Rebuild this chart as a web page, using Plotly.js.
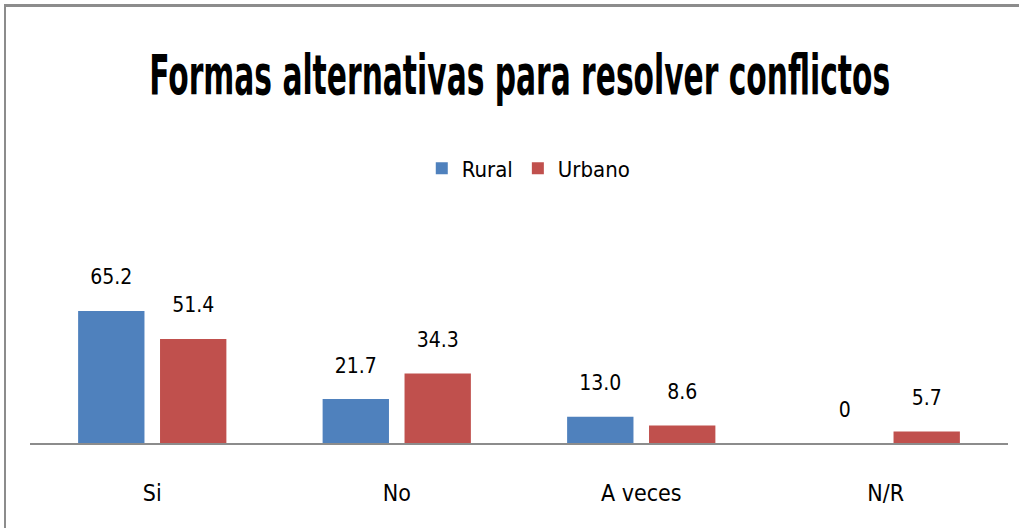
<!DOCTYPE html>
<html>
<head>
<meta charset="utf-8">
<script src="https://cdn.plot.ly/plotly-3.0.1.min.js"></script>
<style>
  html, body { margin: 0; padding: 0; background: #ffffff; }
  #wrap { position: relative; width: 1019px; height: 528px; overflow: hidden; }
  #chart { width: 1019px; height: 528px; }
  #frame { position: absolute; left: 4px; top: 4px; width: 1100px; height: 600px;
           border-top: 3px solid #8c8c8c; border-left: 2px solid #8c8c8c; pointer-events: none; }
  #chart .gtitle { transform-box: fill-box; transform-origin: center; transform: scaleX(0.59); }
</style>
</head>
<body>
<div id="wrap">
  <div id="chart"></div>
  <div id="frame"></div>
</div>
<script>
const categories = ["Si", "No", "A veces", "N/R"];
const rural = [65.2, 21.7, 13.0, 0];
const urbano = [51.4, 34.3, 8.6, 5.7];
const seriesNames = ["Rural", "Urbano"];
const chartTitle = "Formas alternativas para resolver conflictos";

const FONT = "'DejaVu Sans Condensed', 'Liberation Sans Narrow', 'Liberation Sans', sans-serif";
const fmt = v => (v === 0 ? "0" : v.toFixed(1));

function barTrace(name, values, color) {
  return {
    type: "bar",
    name: name,
    x: categories,
    y: values,
    marker: { color: color },
    text: values.map(v => "<span style='font-size:21px'>" + fmt(v) + "</span><br> "),
    textposition: "outside",
    textfont: { family: FONT, size: 15, color: "#000000" },
    cliponaxis: false,
    hoverinfo: "x+y+name"
  };
}

const data = [
  barTrace(seriesNames[0], rural, "#4F81BD"),
  barTrace(seriesNames[1], urbano, "#C0504D")
];

const layout = {
  width: 1019,
  height: 528,
  margin: { l: 30, r: 11, t: 200, b: 85 },
  paper_bgcolor: "#ffffff",
  plot_bgcolor: "#ffffff",
  font: { family: FONT, color: "#000000" },
  title: {
    text: "<b>" + chartTitle + "</b>",
    font: { family: FONT, size: 56, color: "#000000" },
    x: 0.51, xanchor: "center",
    y: 0.86, yanchor: "middle"
  },
  showlegend: true,
  legend: {
    orientation: "h",
    x: 0.51, xanchor: "center",
    y: 1.13, yanchor: "middle",
    font: { family: FONT, size: 22, color: "#000000" },
    itemwidth: 30,
    traceorder: "normal"
  },
  bargap: 0.33,
  bargroupgap: 0.19,
  xaxis: {
    showline: true,
    linecolor: "#8c8c8c",
    linewidth: 2,
    ticks: "",
    showgrid: false,
    zeroline: false,
    tickfont: { family: FONT, size: 23, color: "#000000" },
    ticklabelstandoff: 28
  },
  yaxis: {
    range: [0, 120],
    visible: false,
    showgrid: false,
    zeroline: false
  }
};

Plotly.newPlot("chart", data, layout, { displayModeBar: false, staticPlot: true });
</script>
</body>
</html>
